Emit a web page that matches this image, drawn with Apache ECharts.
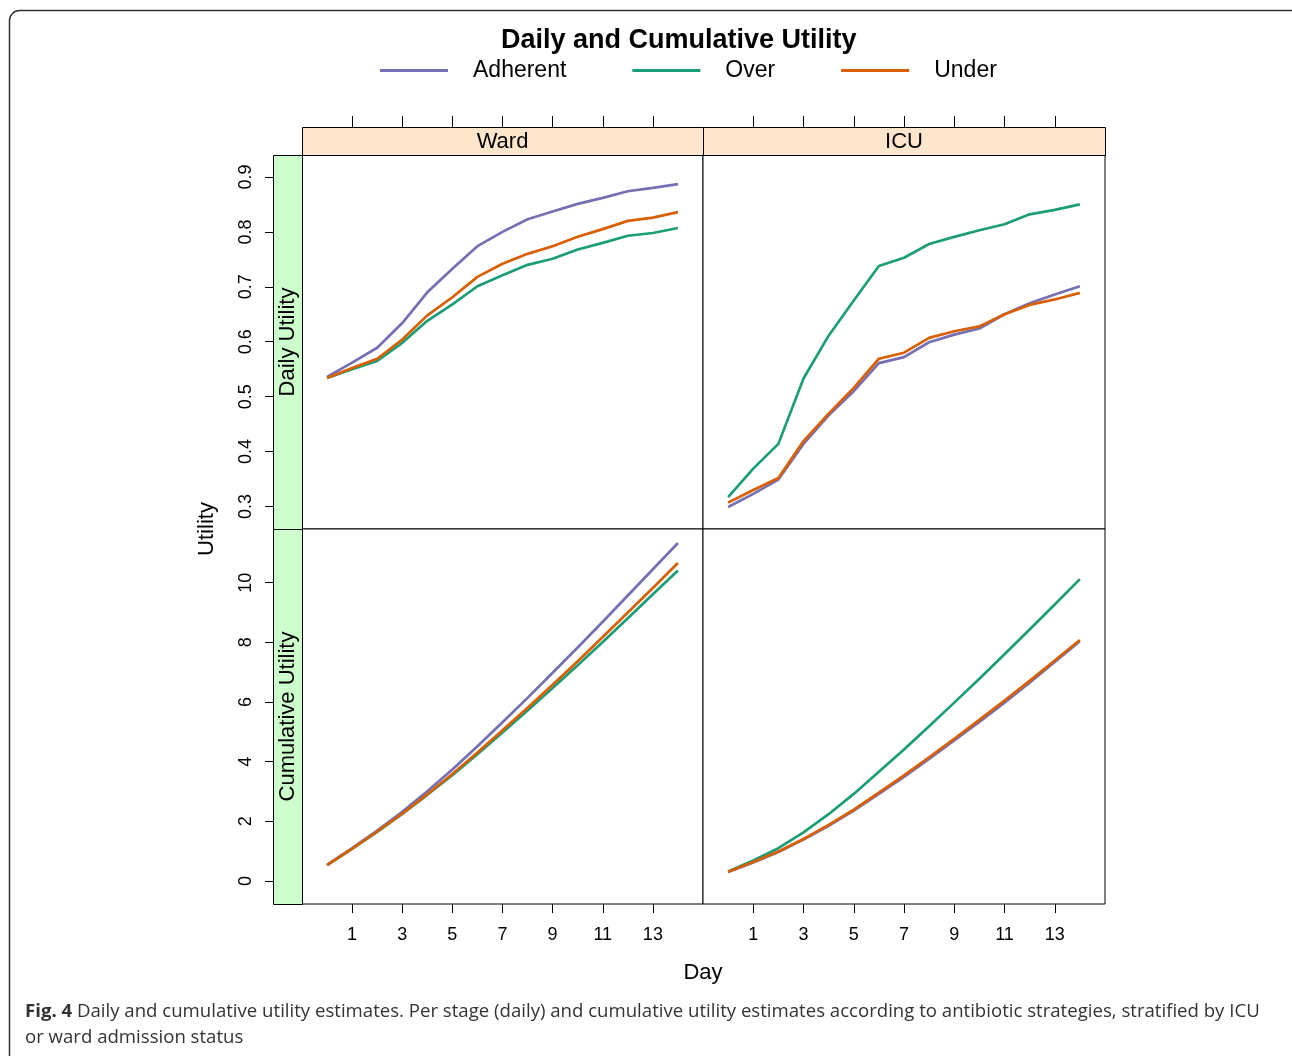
<!DOCTYPE html>
<html><head><meta charset="utf-8">
<script src="https://cdn.jsdelivr.net/npm/echarts@6/dist/echarts.min.js"></script>
<style>html,body{margin:0;padding:0;background:#fff}#chart{width:1292px;height:1056px}</style>
</head><body><div id="chart"></div>
<script>
// ---- data ----
const days = [0,1,2,3,4,5,6,7,8,9,10,11,12,13,14];
const dayTicks = [1,3,5,7,9,11,13];
const dailyTicks = [0.3,0.4,0.5,0.6,0.7,0.8,0.9];
const cumTicks = [0,2,4,6,8,10];
const strategies = ['Adherent','Over','Under'];
const admissions = ['Ward','ICU'];
const measures = ['Daily Utility','Cumulative Utility'];

const wardDailyAdherent = [0.536,0.562,0.589,0.634,0.690,0.733,0.774,0.800,0.823,0.837,0.851,0.862,0.874,0.880,0.887];
const wardDailyOver     = [0.534,0.550,0.565,0.598,0.638,0.668,0.701,0.721,0.740,0.751,0.768,0.780,0.793,0.798,0.807];
const wardDailyUnder    = [0.534,0.552,0.569,0.604,0.648,0.681,0.718,0.742,0.760,0.774,0.791,0.805,0.820,0.826,0.836];
const icuDailyAdherent  = [0.299,0.323,0.349,0.414,0.466,0.510,0.561,0.572,0.599,0.613,0.624,0.650,0.670,0.686,0.701];
const icuDailyOver      = [0.317,0.369,0.414,0.533,0.611,0.675,0.738,0.753,0.778,0.791,0.803,0.814,0.832,0.840,0.850];
const icuDailyUnder     = [0.307,0.330,0.352,0.419,0.469,0.516,0.569,0.580,0.607,0.619,0.628,0.650,0.667,0.677,0.689];

const wardCumAdherent = [0.54,1.10,1.69,2.32,3.01,3.74,4.52,5.32,6.14,6.98,7.83,8.69,9.57,10.45,11.33];
const wardCumOver     = [0.53,1.08,1.65,2.25,2.89,3.55,4.25,4.98,5.72,6.47,7.23,8.01,8.81,9.61,10.41];
const wardCumUnder    = [0.53,1.09,1.66,2.26,2.91,3.59,4.31,5.05,5.81,6.58,7.37,8.18,9.00,9.82,10.66];
const icuCumAdherent  = [0.30,0.62,0.97,1.39,1.85,2.36,2.92,3.49,4.09,4.71,5.33,5.98,6.65,7.34,8.04];
const icuCumOver      = [0.32,0.69,1.10,1.63,2.24,2.92,3.66,4.41,5.19,5.98,6.78,7.60,8.43,9.27,10.12];
const icuCumUnder     = [0.31,0.64,0.99,1.41,1.88,2.39,2.96,3.54,4.15,4.77,5.40,6.05,6.71,7.39,8.08];

// ---- layout / style ----
const FONT = '"Liberation Sans", Arial, sans-serif';
const colors = {Adherent:'#7570B3', Over:'#1B9E77', Under:'#D95F02'};
const colX = [302, 703];
const colW = [401, 402];
const rowY = [155, 529];
const rowH = [374, 375];
const yRange = [[0.259, 0.940], [-0.77, 11.8]];
const yTickSets = [dailyTicks, cumTicks];

const panels = [
  {row:0, col:0, vals:[wardDailyAdherent, wardDailyOver, wardDailyUnder]},
  {row:0, col:1, vals:[icuDailyAdherent, icuDailyOver, icuDailyUnder]},
  {row:1, col:0, vals:[wardCumAdherent, wardCumOver, wardCumUnder]},
  {row:1, col:1, vals:[icuCumAdherent, icuCumOver, icuCumUnder]}
];

const tickStyle = {color: '#000', width: 1};
const grid = [], xAxis = [], yAxis = [], series = [];
panels.forEach((p, i) => {
  grid.push({left: colX[p.col], top: rowY[p.row], width: colW[p.col], height: rowH[p.row],
    show: true, borderColor: '#000', borderWidth: 1, backgroundColor: '#fff', z: 1});
  const isTop = p.row === 0;
  const isLeft = p.col === 0;
  xAxis.push({
    gridIndex: i, type: 'value', min: -1, max: 15,
    position: isTop ? 'top' : 'bottom', offset: isTop ? 28 : 0,
    axisLine: {show: false, onZero: false}, splitLine: {show: false},
    axisTick: {show: true, length: isTop ? 11 : 9, lineStyle: tickStyle, customValues: dayTicks},
    axisLabel: {show: !isTop, customValues: dayTicks, margin: 22, color: '#000', fontSize: 18, fontFamily: FONT}
  });
  yAxis.push({
    gridIndex: i, type: 'value', min: yRange[p.row][0], max: yRange[p.row][1],
    position: 'left', offset: 29, show: isLeft,
    axisLine: {show: false, onZero: false}, splitLine: {show: false},
    axisTick: {show: true, length: 8, lineStyle: tickStyle, customValues: yTickSets[p.row]},
    axisLabel: {show: true, customValues: yTickSets[p.row], rotate: 90, margin: 18, color: '#000', fontSize: 18, fontFamily: FONT}
  });
  strategies.forEach((s, k) => {
    series.push({
      name: s, type: 'line', xAxisIndex: i, yAxisIndex: i,
      data: days.map((d, j) => [d, p.vals[k][j]]),
      showSymbol: false, symbol: 'none', smooth: false,
      lineStyle: {color: colors[s], width: 2.7},
      itemStyle: {color: colors[s]}, z: 3
    });
  });
});

const graphics = [
  {type: 'rect', shape: {x: 9.5, y: 10.5, width: 1300, height: 1080, r: 10}, style: {fill: 'none', stroke: '#333', lineWidth: 1.5}, z: 0, silent: true}
];
admissions.forEach((a, c) => {
  graphics.push({type: 'rect', shape: {x: colX[c] + 0.5, y: 127.5, width: colW[c], height: 28}, style: {fill: '#FFE5CC', stroke: '#000', lineWidth: 1}, z: 5});
  graphics.push({type: 'text', x: colX[c] + colW[c] / 2, y: 141.5, style: {text: a, fill: '#000', font: '22px ' + FONT, textAlign: 'center', textVerticalAlign: 'middle'}, z: 6});
});
measures.forEach((m, r) => {
  graphics.push({type: 'rect', shape: {x: 273.5, y: rowY[r] + 0.5, width: 29, height: rowH[r]}, style: {fill: '#CCFFCC', stroke: '#000', lineWidth: 1}, z: 5});
  graphics.push({type: 'text', x: 288, y: rowY[r] + rowH[r] / 2, rotation: Math.PI / 2, style: {text: m, fill: '#000', font: '22px ' + FONT, textAlign: 'center', textVerticalAlign: 'middle'}, z: 6});
});
graphics.push({type: 'text', x: 207, y: 529, rotation: Math.PI / 2, style: {text: 'Utility', fill: '#000', font: '22px ' + FONT, textAlign: 'center', textVerticalAlign: 'middle'}});
graphics.push({type: 'text', x: 703, y: 973, style: {text: 'Day', fill: '#000', font: '22px ' + FONT, textAlign: 'center', textVerticalAlign: 'middle'}});
graphics.push({type: 'text', x: 25, y: 999, style: {
  text: '{b|Fig. 4} Daily and cumulative utility estimates. Per stage (daily) and cumulative utility estimates according to antibiotic strategies, stratified by ICU\nor ward admission status',
  fill: '#333', font: '18.6px "Open Sans", sans-serif', textVerticalAlign: 'top', lineHeight: 26,
  rich: {b: {fontWeight: 'bold', fontSize: 18.6, fontFamily: '"Open Sans", sans-serif', fill: '#333', lineHeight: 26}}
}});

const chart = echarts.init(document.getElementById('chart'), null, {renderer: 'canvas'});
chart.setOption({
  animation: false,
  backgroundColor: '#fff',
  title: {text: 'Daily and Cumulative Utility', left: 496, top: 22,
    textStyle: {fontFamily: FONT, fontWeight: 'bold', fontSize: 27, color: '#000'}},
  legend: {data: strategies, left: 375, top: 54, icon: 'rect', itemWidth: 68, itemHeight: 3, itemGap: 66,
    textStyle: {fontFamily: FONT, fontSize: 23, color: '#000', padding: [0, 0, 0, 20]}},
  grid, xAxis, yAxis, series,
  graphic: graphics
});
</script></body></html>
